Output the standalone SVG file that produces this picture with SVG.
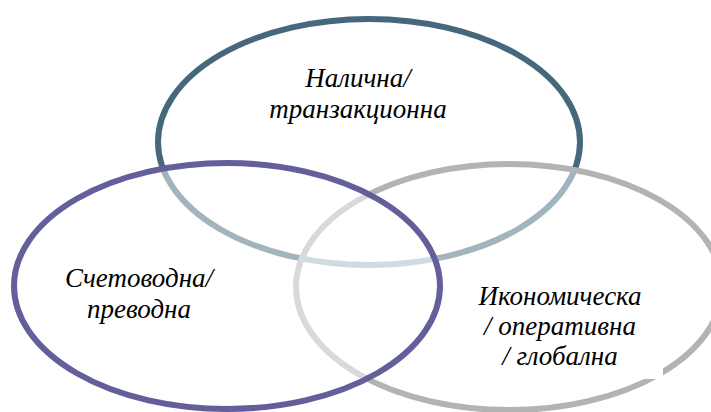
<svg xmlns="http://www.w3.org/2000/svg" width="711" height="412" viewBox="0 0 711 412">
<style>
.ell{fill:#ffffff;fill-opacity:0.5;stroke-width:6}
.lbl{font-family:'Liberation Serif','Times New Roman',serif;font-style:italic;font-size:27px;fill:#000;text-anchor:middle}
</style>
<rect width="711" height="412" fill="#ffffff"/>
<g id="node-top">
<ellipse class="ell" cx="369" cy="142" rx="211" ry="123" stroke="#45687c"/>
<text class="lbl" x="358" y="87">Налична/</text>
<text class="lbl" x="358" y="118">транзакционна</text>
</g>
<g id="node-right">
<ellipse class="ell" cx="509" cy="287" rx="213" ry="123" stroke="#b3b3b3"/>
<rect x="468" y="282" width="195" height="97" fill="#ffffff"/>
<text class="lbl" x="560" y="305">Икономическа</text>
<text class="lbl" x="560" y="335">/ оперативна</text>
<text class="lbl" x="560" y="365">/ глобална</text>
</g>
<g id="node-left">
<ellipse class="ell" cx="227" cy="286" rx="213" ry="123" stroke="#635f9b"/>
<text class="lbl" x="139" y="287">Счетоводна/</text>
<text class="lbl" x="139" y="318">преводна</text>
</g>
<g id="connectors"></g>
</svg>
